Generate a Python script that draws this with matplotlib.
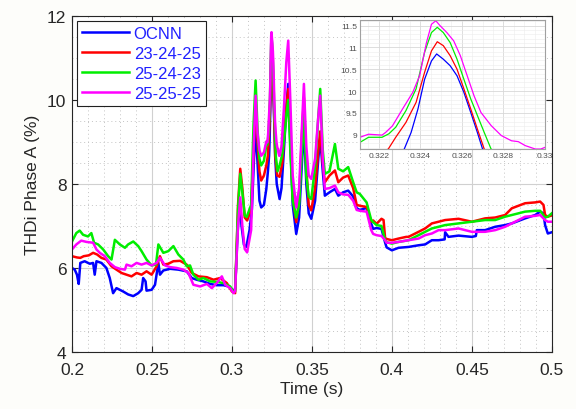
import matplotlib
matplotlib.use('Agg')
import matplotlib.pyplot as plt
from matplotlib.ticker import MultipleLocator, FormatStrFormatter

plt.rcParams['font.family'] = ['Liberation Sans', 'DejaVu Sans']

# ---- data ----
labels = ['OCNN', '23-24-25', '25-24-23', '25-25-25']
colors = ['#0000ff', '#ff0000', '#00ee00', '#ff00ff']

t_ocnn = [0.2, 0.2017, 0.2031, 0.2042, 0.2052, 0.2079, 0.2111, 0.2132, 0.2142, 0.2153,
          0.2184, 0.2215, 0.2236, 0.2257, 0.2278, 0.232, 0.2351, 0.2383, 0.2414, 0.2435,
          0.2445, 0.246, 0.2466, 0.2498, 0.2519, 0.254, 0.255, 0.2571, 0.2613, 0.2665,
          0.2717, 0.2749, 0.278, 0.2822, 0.2864, 0.2905, 0.2947, 0.2979, 0.301, 0.302,
          0.3035, 0.3048, 0.306, 0.3075, 0.309, 0.311, 0.3125, 0.3138, 0.3148, 0.316,
          0.3172, 0.3183, 0.32, 0.3215, 0.3225, 0.32323, 0.32356, 0.32389, 0.32421, 0.32454,
          0.32479, 0.32511, 0.32544, 0.32577, 0.3261, 0.32643, 0.32675, 0.327, 0.328, 0.3298,
          0.331, 0.3325, 0.334, 0.3352, 0.3365, 0.338, 0.3402, 0.342, 0.3438, 0.345,
          0.3465, 0.348, 0.3496, 0.352, 0.354, 0.3552, 0.3568, 0.3581, 0.361, 0.3644,
          0.3665, 0.3695, 0.3727, 0.3758, 0.378, 0.38, 0.3842, 0.3871, 0.3883, 0.3904,
          0.3935, 0.3958, 0.3967, 0.4, 0.4042, 0.4104, 0.4167, 0.4208, 0.425, 0.4292,
          0.433, 0.4333, 0.4354, 0.4417, 0.45, 0.4525, 0.4531, 0.4583, 0.4646, 0.4708,
          0.475, 0.4833, 0.4896, 0.4927, 0.4948, 0.4958, 0.4975, 0.5]
v_ocnn = [6.0, 5.96, 5.84, 5.62, 6.12, 6.16, 6.1, 6.12, 5.84, 6.16,
          6.12, 6.0, 5.76, 5.4, 5.52, 5.44, 5.37, 5.33, 5.4, 5.48,
          5.76, 5.68, 5.46, 5.48, 5.6, 6.12, 5.84, 5.94, 5.98, 5.96,
          5.92, 5.76, 5.72, 5.68, 5.62, 5.59, 5.59, 5.56, 5.46, 5.5,
          6.8, 7.6, 7.0, 6.55, 6.5, 6.9, 7.4, 8.6, 9.35, 8.5,
          7.6, 7.44, 7.5, 7.88, 8.3, 8.67, 9.05, 9.59, 10.27, 10.69,
          10.85, 10.73, 10.58, 10.35, 9.97, 9.51, 9.05, 8.67, 8.0, 7.64,
          7.9, 8.8, 9.8, 10.38, 9.0, 7.5, 6.81, 7.2, 8.5, 9.4,
          8.0, 7.3, 7.17, 7.6, 8.6, 9.1, 8.3, 7.72, 7.8, 7.88,
          7.72, 7.8, 7.84, 7.7, 7.42, 7.38, 7.43, 7.05, 6.93, 6.95,
          6.93, 6.6, 6.49, 6.42, 6.48, 6.5, 6.54, 6.56, 6.66, 6.66,
          6.68, 6.85, 6.74, 6.77, 6.74, 6.76, 6.9, 6.9, 6.98, 7.02,
          7.06, 7.18, 7.26, 7.34, 7.3, 7.02, 6.82, 6.85]

t_232425 = [0.2, 0.2031, 0.2052, 0.2073, 0.2105, 0.2132, 0.2157, 0.2184, 0.2215, 0.2247,
            0.2278, 0.231, 0.2341, 0.2372, 0.2404, 0.2435, 0.2466, 0.2498, 0.2529, 0.255,
            0.2571, 0.2602, 0.2634, 0.2676, 0.2717, 0.2749, 0.2791, 0.2843, 0.2885, 0.2926,
            0.2968, 0.3, 0.302, 0.3038, 0.3052, 0.3065, 0.308, 0.3095, 0.312, 0.3135,
            0.3148, 0.316, 0.3172, 0.3183, 0.32, 0.3215, 0.32246, 0.32282, 0.32331, 0.3238,
            0.32421, 0.32454, 0.32482, 0.32511, 0.32544, 0.32577, 0.3261, 0.32643, 0.32675, 0.32708,
            0.3283, 0.3298, 0.3315, 0.333, 0.3342, 0.3352, 0.3365, 0.338, 0.3402, 0.342,
            0.3438, 0.345, 0.3465, 0.348, 0.3496, 0.352, 0.354, 0.3552, 0.3568, 0.3581,
            0.361, 0.3644, 0.3665, 0.3695, 0.3727, 0.3758, 0.378, 0.38, 0.3842, 0.3871,
            0.3883, 0.3904, 0.3935, 0.3948, 0.3958, 0.3967, 0.4, 0.4042, 0.409, 0.4104,
            0.4167, 0.4208, 0.425, 0.4292, 0.4333, 0.4417, 0.45, 0.4583, 0.4646, 0.4708,
            0.475, 0.4833, 0.4896, 0.4927, 0.4948, 0.4958, 0.4975, 0.5]
v_232425 = [6.28, 6.25, 6.24, 6.28, 6.3, 6.36, 6.32, 6.24, 6.2, 6.04,
            5.96, 5.88, 5.84, 5.8, 5.88, 5.84, 5.92, 5.84, 6.04, 6.28,
            6.08, 6.1, 6.16, 6.17, 6.08, 5.88, 5.8, 5.78, 5.72, 5.76,
            5.64, 5.44, 5.4, 7.5, 8.36, 7.9, 7.2, 7.13, 7.4, 8.8,
            9.87, 9.0, 8.3, 8.08, 8.2, 8.44, 8.67, 8.94, 9.28, 9.74,
            10.43, 10.92, 11.13, 11.04, 10.81, 10.5, 10.05, 9.59, 9.13, 8.67,
            8.2, 8.17, 8.5, 9.3, 9.9, 10.26, 9.2, 7.7, 7.09, 7.6,
            9.2, 10.05, 8.4, 7.5, 7.37, 7.9, 8.8, 9.25, 8.5, 8.04,
            8.2, 8.32, 8.04, 8.15, 8.2, 7.9, 7.5, 7.48, 7.45, 7.1,
            7.13, 7.05, 7.17, 7.14, 6.7, 6.69, 6.66, 6.7, 6.74, 6.74,
            6.86, 6.94, 7.06, 7.1, 7.14, 7.17, 7.1, 7.18, 7.2, 7.26,
            7.42, 7.54, 7.56, 7.58, 7.5, 7.26, 7.22, 7.25]

t_252423 = [0.2, 0.2027, 0.2048, 0.2069, 0.21, 0.2121, 0.2138, 0.2163, 0.2195, 0.2226,
            0.2247, 0.2268, 0.2299, 0.2331, 0.2351, 0.2383, 0.2414, 0.2435, 0.2466, 0.2498,
            0.2525, 0.254, 0.2571, 0.2602, 0.2634, 0.2665, 0.2696, 0.2717, 0.2738, 0.2759,
            0.2791, 0.2822, 0.2864, 0.2905, 0.2947, 0.2989, 0.301, 0.302, 0.3038, 0.3052,
            0.3065, 0.308, 0.3092, 0.312, 0.3135, 0.3148, 0.316, 0.3172, 0.3183, 0.32,
            0.32098, 0.32151, 0.32216, 0.32249, 0.32282, 0.32331, 0.3238, 0.32421, 0.32454, 0.32482,
            0.32511, 0.32544, 0.32577, 0.3261, 0.32643, 0.32675, 0.32708, 0.32741, 0.3285, 0.3298,
            0.3315, 0.333, 0.3342, 0.3352, 0.3365, 0.338, 0.3402, 0.342, 0.3438, 0.345,
            0.3465, 0.348, 0.3496, 0.352, 0.354, 0.3552, 0.3568, 0.3581, 0.361, 0.3644,
            0.3665, 0.3695, 0.3727, 0.3758, 0.378, 0.38, 0.3842, 0.3871, 0.3883, 0.3904,
            0.3935, 0.3958, 0.3967, 0.4, 0.4042, 0.4104, 0.4167, 0.4208, 0.425, 0.4292,
            0.4333, 0.4417, 0.45, 0.4583, 0.4646, 0.4708, 0.475, 0.4833, 0.4896, 0.4927,
            0.4958, 0.4975, 0.5]
v_252423 = [6.63, 6.83, 6.89, 6.79, 6.75, 6.83, 6.6, 6.56, 6.44, 6.28,
            6.2, 6.67, 6.56, 6.48, 6.56, 6.63, 6.52, 6.4, 6.2, 6.06,
            6.08, 6.56, 6.36, 6.4, 6.52, 6.32, 6.2, 6.04, 6.06, 5.84,
            5.72, 5.76, 5.68, 5.67, 5.64, 5.56, 5.44, 5.45, 7.4, 8.24,
            7.8, 7.25, 7.21, 7.5, 9.4, 10.46, 9.3, 8.6, 8.44, 8.55,
            8.79, 8.94, 8.94, 9.02, 9.17, 9.55, 10.05, 10.89, 11.34, 11.46,
            11.34, 11.11, 10.73, 10.27, 9.82, 9.44, 9.05, 8.67, 8.3, 8.44,
            8.7, 9.2, 9.7, 10.0, 8.8, 7.6, 7.2, 7.5, 8.8, 9.63,
            8.2, 7.7, 7.64, 8.4, 9.6, 10.26, 8.8, 8.24, 8.3, 8.95,
            8.36, 8.3, 8.4, 8.04, 7.8, 7.76, 7.56, 7.14, 7.09, 7.02,
            7.0, 6.66, 6.61, 6.58, 6.62, 6.66, 6.78, 6.86, 6.94, 6.98,
            7.02, 7.06, 7.1, 7.14, 7.14, 7.22, 7.26, 7.34, 7.36, 7.36,
            7.2, 7.22, 7.3]

t_252525 = [0.2, 0.2027, 0.2058, 0.209, 0.2132, 0.2153, 0.2174, 0.2205, 0.2236, 0.2268,
            0.2299, 0.2331, 0.2341, 0.2372, 0.2404, 0.2435, 0.2466, 0.2498, 0.2529, 0.255,
            0.2582, 0.2613, 0.2655, 0.2696, 0.2728, 0.2759, 0.2801, 0.2843, 0.2874, 0.2905,
            0.2937, 0.2958, 0.2989, 0.301, 0.302, 0.3038, 0.3052, 0.3065, 0.308, 0.3095,
            0.312, 0.3135, 0.3148, 0.316, 0.3172, 0.3183, 0.32, 0.32098, 0.32151, 0.32216,
            0.32233, 0.32266, 0.32315, 0.32364, 0.32397, 0.3243, 0.32454, 0.32475, 0.32495, 0.32528,
            0.32561, 0.32593, 0.32626, 0.32659, 0.32692, 0.32741, 0.3279, 0.32839, 0.32872, 0.32905,
            0.32954, 0.3298, 0.331, 0.3325, 0.334, 0.3352, 0.3365, 0.338, 0.3402, 0.342,
            0.3438, 0.345, 0.3465, 0.348, 0.3496, 0.352, 0.354, 0.3552, 0.3568, 0.3581,
            0.361, 0.3644, 0.3665, 0.3695, 0.3727, 0.3758, 0.378, 0.38, 0.3842, 0.3871,
            0.3883, 0.3904, 0.3935, 0.3958, 0.3967, 0.4, 0.4042, 0.4104, 0.4167, 0.4208,
            0.425, 0.4292, 0.4333, 0.4417, 0.45, 0.4583, 0.4646, 0.4708, 0.475, 0.4833,
            0.4896, 0.4927, 0.4958, 0.4975, 0.5]
v_252525 = [6.44, 6.56, 6.65, 6.62, 6.6, 6.44, 6.36, 6.28, 6.12, 6.02,
            5.98, 5.96, 6.08, 6.04, 6.12, 6.08, 6.12, 6.06, 6.12, 6.24,
            6.06, 6.02, 6.0, 5.96, 5.88, 5.6, 5.56, 5.62, 5.52, 5.64,
            5.8, 5.6, 5.52, 5.4, 5.45, 7.0, 7.68, 7.0, 6.45, 6.37,
            6.9, 8.8, 10.1, 9.2, 8.8, 8.67, 8.75, 8.92, 9.01, 8.99,
            9.05, 9.2, 9.59, 9.97, 10.35, 11.11, 11.53, 11.61, 11.5, 11.34,
            11.15, 10.81, 10.35, 9.89, 9.51, 9.21, 8.98, 8.86, 8.84, 8.75,
            8.67, 8.67, 8.9, 9.8, 10.9, 11.41, 10.0, 8.2, 7.44, 7.9,
            9.4, 10.38, 8.9, 8.2, 8.12, 8.6, 9.6, 10.1, 8.6, 7.88,
            7.9, 7.96, 7.8, 7.75, 7.74, 7.6, 7.38, 7.36, 7.34, 6.9,
            6.81, 6.78, 6.76, 6.66, 6.6, 6.6, 6.62, 6.66, 6.7, 6.78,
            6.82, 6.9, 6.9, 6.94, 6.86, 6.86, 6.9, 6.98, 7.06, 7.22,
            7.24, 7.26, 7.14, 7.1, 7.1]

series_t = [t_ocnn, t_232425, t_252423, t_252525]
series_v = [v_ocnn, v_232425, v_252423, v_252525]

# ---- figure ----
fig = plt.figure(figsize=(5.76, 4.10), dpi=100, facecolor='#fdfdfa')
ax = fig.add_axes([0.125, 0.139, 0.833, 0.82])

for t, v, c, lab in zip(series_t, series_v, colors, labels):
    ax.plot(t, v, color=c, linewidth=1.8, label=lab)

ax.set_xlim(0.2, 0.5)
ax.set_ylim(4, 12)
ax.xaxis.set_major_locator(MultipleLocator(0.05))
ax.xaxis.set_minor_locator(MultipleLocator(0.01))
ax.yaxis.set_major_locator(MultipleLocator(2))
ax.yaxis.set_minor_locator(MultipleLocator(0.5))
ax.xaxis.set_major_formatter(FormatStrFormatter('%g'))
ax.grid(which='major', color='#d0d0d0', linewidth=0.8)
ax.grid(which='minor', color='#c4c4c4', linestyle=(0, (1, 3)), linewidth=0.7)
ax.tick_params(which='both', direction='in', top=True, right=True, labelsize=12.5,
               colors='#262626', length=4)
ax.tick_params(axis='x', pad=7)
ax.tick_params(axis='y', pad=4)
ax.tick_params(which='minor', length=0)
for s in ax.spines.values():
    s.set_color('#262626')
    s.set_linewidth(0.8)
ax.set_xlabel('Time (s)', fontsize=12.5, color='#262626', labelpad=3)
ax.set_ylabel('THDi Phase A (%)', fontsize=12.5, color='#262626', labelpad=5)

leg = ax.legend(loc='upper left', fontsize=12, labelcolor='#2020ff', fancybox=False,
                edgecolor='#202020', framealpha=1, handlelength=2.8, handletextpad=0.3,
                borderaxespad=0.3, borderpad=0.3, labelspacing=0.3)
leg.get_frame().set_linewidth(0.8)

# ---- zoom inset ----
axin = fig.add_axes([0.625, 0.634, 0.321, 0.315])
for t, v, c in zip(series_t, series_v, colors):
    axin.plot(t, v, color=c, linewidth=0.9)
axin.set_xlim(0.3211, 0.33)
axin.set_ylim(8.67, 11.63)
axin.xaxis.set_major_locator(MultipleLocator(0.002))
axin.xaxis.set_minor_locator(MultipleLocator(0.0005))
axin.yaxis.set_major_locator(MultipleLocator(0.5))
axin.yaxis.set_minor_locator(MultipleLocator(0.1))
axin.xaxis.set_major_formatter(FormatStrFormatter('%g'))
axin.yaxis.set_major_formatter(FormatStrFormatter('%g'))
axin.grid(which='major', color='#d8d8d8', linewidth=0.6)
axin.grid(which='minor', color='#ececec', linewidth=0.4)
axin.tick_params(which='both', direction='in', labelsize=6, colors='#505050', length=0, pad=2)
for s in axin.spines.values():
    s.set_color('#a0a0a0')
    s.set_linewidth(0.8)

fig.savefig('out.png', dpi=100, facecolor=fig.get_facecolor())
